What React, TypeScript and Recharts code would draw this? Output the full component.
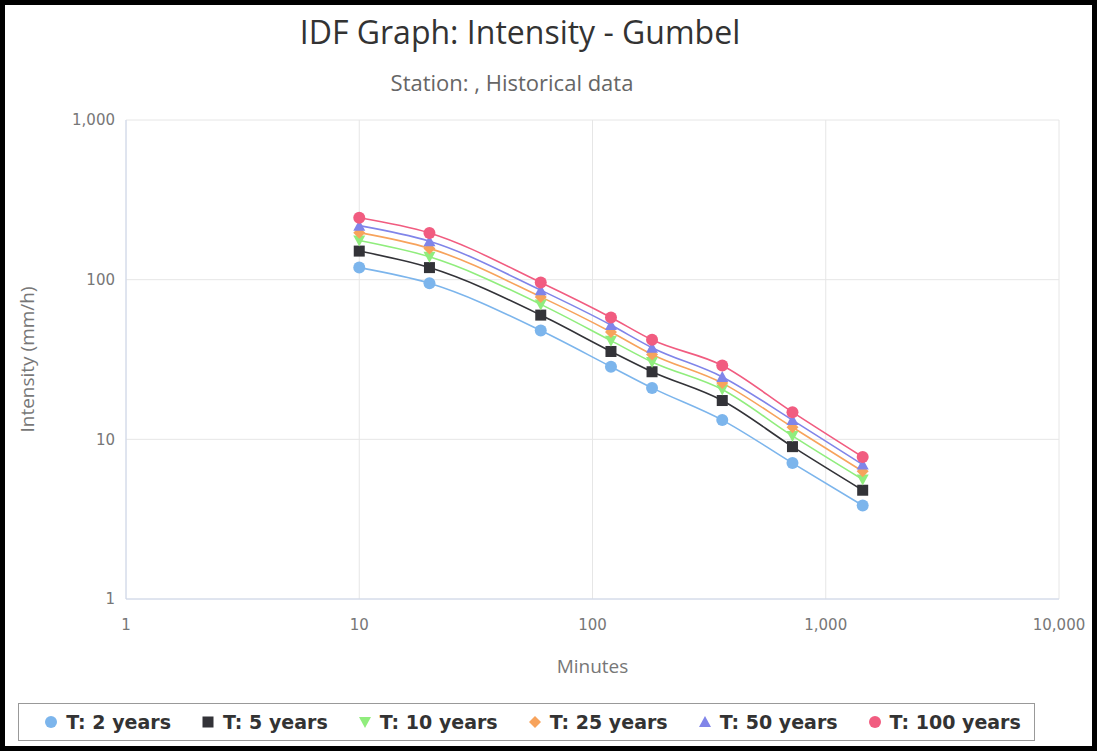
import { LineChart, Line, XAxis, YAxis, CartesianGrid, Label } from 'recharts'

// durations (minutes) and intensities (mm/h)
const minutes = [10, 20, 60, 120, 180, 360, 720, 1440]
const t2 = [119, 95, 48, 28.5, 21, 13.2, 7.1, 3.85]
const t5 = [151, 119, 60, 35.5, 26.5, 17.5, 9, 4.8]
const t10 = [176, 139, 70, 41.5, 30.5, 20.5, 10.5, 5.6]
const t25 = [197, 157, 78, 47, 34, 22.5, 11.9, 6.3]
const t50 = [218, 174, 86, 52, 37.5, 24.6, 13.2, 6.95]
const t100 = [244, 196, 96, 58, 42, 29, 14.8, 7.75]

const xTicks = [1, 10, 100, 1000, 10000]
const yTicks = [1, 10, 100, 1000]

const series = [
  { key: 't2', name: 'T: 2 years', values: t2, color: '#7cb5ec', shape: 'circle' },
  { key: 't5', name: 'T: 5 years', values: t5, color: '#333338', shape: 'square' },
  { key: 't10', name: 'T: 10 years', values: t10, color: '#90ed7d', shape: 'triangle-down' },
  { key: 't25', name: 'T: 25 years', values: t25, color: '#f7a35c', shape: 'diamond' },
  { key: 't50', name: 'T: 50 years', values: t50, color: '#8085e9', shape: 'triangle' },
  { key: 't100', name: 'T: 100 years', values: t100, color: '#f15c80', shape: 'circle' },
]

const data = minutes.map((m, i) => {
  const row: Record<string, number> = { minutes: m }
  series.forEach(s => { row[s.key] = s.values[i] })
  return row
})

const fmt = (v: number) => v.toLocaleString('en-US')

function markerShape(shape: string, cx: number, cy: number, color: string, key?: string) {
  switch (shape) {
    case 'square':
      return <rect key={key} x={cx - 5.5} y={cy - 5.5} width={11} height={11} fill={color} />
    case 'triangle':
      return <polygon key={key} points={`${cx},${cy - 6} ${cx + 6},${cy + 5} ${cx - 6},${cy + 5}`} fill={color} />
    case 'triangle-down':
      return <polygon key={key} points={`${cx - 6},${cy - 5} ${cx + 6},${cy - 5} ${cx},${cy + 6}`} fill={color} />
    case 'diamond':
      return <polygon key={key} points={`${cx},${cy - 6} ${cx + 6},${cy} ${cx},${cy + 6} ${cx - 6},${cy}`} fill={color} />
    default:
      return <circle key={key} cx={cx} cy={cy} r={6} fill={color} />
  }
}

const tickStyle = { fontFamily: 'DejaVu Sans', fontSize: 15, fill: '#777' }
const axisTitle = { fontFamily: 'Open Sans', fontSize: 19, fill: '#777' }

export default function App() {
  return (
    <div style={{ position: 'absolute', left: 0, top: 0, width: 1097, height: 751, background: '#fff' }}>
      <div style={{ position: 'absolute', top: 10, left: 0, width: 1040, textAlign: 'center', fontFamily: 'Open Sans', fontSize: 32, color: '#333' }}>
        IDF Graph: Intensity - Gumbel
      </div>
      <div style={{ position: 'absolute', top: 67, left: 0, width: 1024, textAlign: 'center', fontFamily: 'Open Sans', fontSize: 22, color: '#666' }}>
        Station: , Historical data
      </div>

      <div style={{ position: 'absolute', left: 0, top: 0 }}>
        <LineChart width={1097} height={751} data={data} margin={{ top: 120, right: 38, left: 0, bottom: 72 }}>
          <CartesianGrid stroke="#e6e6e6" horizontalValues={yTicks} verticalValues={xTicks} />
          <XAxis
            dataKey="minutes"
            type="number"
            scale="log"
            domain={[1, 10000]}
            ticks={xTicks}
            allowDataOverflow
            height={80}
            tickFormatter={fmt}
            tick={tickStyle}
            tickLine={false}
            tickSize={0}
            tickMargin={20}
            axisLine={{ stroke: '#ccd6eb' }}
          >
            <Label value="Minutes" position="insideBottom" offset={6} style={axisTitle} />
          </XAxis>
          <YAxis
            type="number"
            scale="log"
            domain={[1, 1000]}
            ticks={yTicks}
            allowDataOverflow
            width={126}
            tickFormatter={fmt}
            tick={tickStyle}
            tickLine={false}
            tickSize={0}
            tickMargin={11}
            axisLine={{ stroke: '#ccd6eb' }}
          >
            <Label value="Intensity (mm/h)" angle={-90} position="insideLeft" offset={27} style={{ ...axisTitle, textAnchor: 'middle' }} />
          </YAxis>
          {series.map(s => (
            <Line
              key={s.key}
              dataKey={s.key}
              name={s.name}
              type="monotone"
              stroke={s.color}
              strokeWidth={1.6}
              isAnimationActive={false}
              dot={(p: any) => markerShape(s.shape, p.cx, p.cy, s.color, `${s.key}-${p.index}`)}
              activeDot={false}
            />
          ))}
        </LineChart>
      </div>

      <div style={{
        position: 'absolute', left: 18, top: 703, width: 1017, height: 38, boxSizing: 'border-box', paddingLeft: 12,
        border: '1px solid #999', display: 'flex', alignItems: 'center', justifyContent: 'center', gap: 30,
      }}>
        {series.map(s => (
          <div key={s.key} style={{ display: 'flex', alignItems: 'center' }}>
            <svg width={14} height={14} style={{ marginRight: 8 }}>
              {markerShape(s.shape, 7, 7, s.color)}
            </svg>
            <span style={{ fontFamily: 'DejaVu Sans', fontWeight: 'bold', fontSize: 19, color: '#333' }}>{s.name}</span>
          </div>
        ))}
      </div>

      <div style={{ position: 'absolute', left: 0, top: 0, width: 1097, height: 751, boxSizing: 'border-box', border: '5px solid #000', pointerEvents: 'none' }} />
    </div>
  )
}
